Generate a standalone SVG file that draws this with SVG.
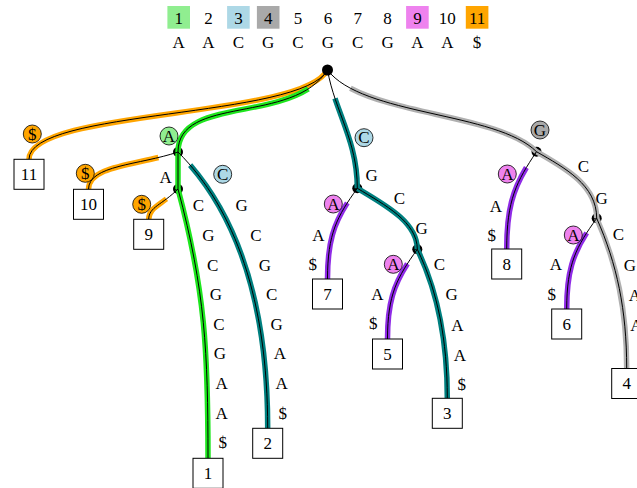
<svg xmlns="http://www.w3.org/2000/svg" width="637" height="488" viewBox="0 0 637 488">
<style>
.t{font-family:"Liberation Serif","Times New Roman",serif;font-size:17px;text-anchor:middle;fill:#000}
.e{fill:none;stroke:#000;stroke-width:1}
.hl{fill:none;stroke-width:5.5;stroke-linecap:butt}
.or{stroke:#FFA500}
.gr{stroke:#1EE61E}
.tl{stroke:#008080}
.gy{stroke:#B0B0B0}
.pu{stroke:#8F2BE6}
.box{fill:#fff;stroke:#000;stroke-width:1}
.dot{fill:#000}
.lab{stroke:#000;stroke-width:0.8}
</style>
<rect width="637" height="488" fill="#fff"/>
<g id="index-row">
<rect x="167.4" y="6" width="22.6" height="22.7" fill="#90EE90"/>
<rect x="227.1" y="6" width="22.6" height="22.7" fill="#ADD8E6"/>
<rect x="256.9" y="6" width="22.6" height="22.7" fill="#A9A9A9"/>
<rect x="406.1" y="6" width="22.6" height="22.7" fill="#EE82EE"/>
<rect x="465.8" y="6" width="22.6" height="22.7" fill="#FFA500"/>
<text class="t" x="178.7" y="24.3">1</text>
<text class="t" x="208.5" y="24.3">2</text>
<text class="t" x="238.4" y="24.3">3</text>
<text class="t" x="268.2" y="24.3">4</text>
<text class="t" x="298" y="24.3">5</text>
<text class="t" x="327.9" y="24.3">6</text>
<text class="t" x="357.7" y="24.3">7</text>
<text class="t" x="387.6" y="24.3">8</text>
<text class="t" x="417.4" y="24.3">9</text>
<text class="t" x="447.3" y="24.3">10</text>
<text class="t" x="477.1" y="24.3">11</text>
<text class="t" x="178.7" y="48.3">A</text>
<text class="t" x="208.5" y="48.3">A</text>
<text class="t" x="238.4" y="48.3">C</text>
<text class="t" x="268.2" y="48.3">G</text>
<text class="t" x="298" y="48.3">C</text>
<text class="t" x="327.9" y="48.3">G</text>
<text class="t" x="357.7" y="48.3">C</text>
<text class="t" x="387.6" y="48.3">G</text>
<text class="t" x="417.4" y="48.3">A</text>
<text class="t" x="447.3" y="48.3">A</text>
<text class="t" x="477.1" y="48.3">$</text>
</g>
<g id="internal-dots">
<circle id="node-A" class="dot" cx="178" cy="152" r="5"/>
<circle id="node-AA" class="dot" cx="178" cy="189" r="5"/>
<circle id="node-CG" class="dot" cx="357.3" cy="188.3" r="5"/>
<circle id="node-CGCG" class="dot" cx="417.3" cy="249.3" r="5"/>
<circle id="node-G" class="dot" cx="536.5" cy="151.7" r="5"/>
<circle id="node-GCG" class="dot" cx="596.7" cy="218.3" r="5"/>
</g>
<g id="connectors">
<g id="highlights">
<path class="hl or" d="M327.5,70 C301.5,118.7 29,108.9 29,159.3"/>
<path class="hl gr" pathLength="100" style="stroke-dasharray:0 15 100" d="M327.5,70 C293.4,124.8 178,94.5 178,152"/>
<path class="hl gr" d="M178,152 L178,189"/>
<path class="hl gr" d="M178,189 C205.4,291.4 208,352 208,458.3"/>
<path class="hl or" pathLength="100" style="stroke-dasharray:0 20 100" d="M178,152 C140,165 88.5,165 88.5,189.3"/>
<path class="hl or" pathLength="100" style="stroke-dasharray:0 35 100" d="M178,189 C162,205 148.7,207 148.7,219.3"/>
<path class="hl tl" pathLength="100" style="stroke-dasharray:0 6 100" d="M178,152 C235,209 267.7,300 267.7,428.3"/>
<path class="hl tl" pathLength="100" style="stroke-dasharray:0 24 100" d="M327.5,70 C335,112 357.3,140 357.3,188.3"/>
<path class="hl tl" d="M357.3,188.3 C385,205 417.3,222 417.3,249.3"/>
<path class="hl tl" d="M417.3,249.3 C438,292 447.3,340 447.3,398.3"/>
<path class="hl gy" pathLength="100" style="stroke-dasharray:0 13 100" d="M327.5,70 C362.2,115.8 496.5,111.7 536.5,151.7"/>
<path class="hl gy" d="M536.5,151.7 C565,168 596.7,185 596.7,218.3"/>
<path class="hl gy" d="M596.7,218.3 C617,264 626.7,310 626.7,368.5"/>
<path class="hl pu" pathLength="100" style="stroke-dasharray:0 18 100" d="M357.3,188.3 C337.3,216.3 327.5,233.3 327.5,279"/>
<path class="hl pu" pathLength="100" style="stroke-dasharray:0 18 100" d="M417.3,249.3 C397.3,277.3 387.5,294.3 387.5,339"/>
<path class="hl pu" pathLength="100" style="stroke-dasharray:0 18 100" d="M536.5,151.7 C516.5,181.7 506.7,199.7 506.7,249"/>
<path class="hl pu" pathLength="100" style="stroke-dasharray:0 18 100" d="M596.7,218.3 C576.7,246.3 566.7,263.3 566.7,309"/>
</g>
<g id="edges">
<path class="e" d="M327.5,70 C301.5,118.7 29,108.9 29,159.3"/>
<path class="e" d="M327.5,70 C293.4,124.8 178,94.5 178,152"/>
<path class="e" d="M178,152 L178,189"/>
<path class="e" d="M178,189 C205.4,291.4 208,352 208,458.3"/>
<path class="e" d="M178,152 C140,165 88.5,165 88.5,189.3"/>
<path class="e" d="M178,189 C162,205 148.7,207 148.7,219.3"/>
<path class="e" d="M178,152 C235,209 267.7,300 267.7,428.3"/>
<path class="e" d="M327.5,70 C335,112 357.3,140 357.3,188.3"/>
<path class="e" d="M357.3,188.3 C385,205 417.3,222 417.3,249.3"/>
<path class="e" d="M417.3,249.3 C438,292 447.3,340 447.3,398.3"/>
<path class="e" d="M327.5,70 C362.2,115.8 496.5,111.7 536.5,151.7"/>
<path class="e" d="M536.5,151.7 C565,168 596.7,185 596.7,218.3"/>
<path class="e" d="M596.7,218.3 C617,264 626.7,310 626.7,368.5"/>
<path class="e" d="M357.3,188.3 C337.3,216.3 327.5,233.3 327.5,279"/>
<path class="e" d="M417.3,249.3 C397.3,277.3 387.5,294.3 387.5,339"/>
<path class="e" d="M536.5,151.7 C516.5,181.7 506.7,199.7 506.7,249"/>
<path class="e" d="M596.7,218.3 C576.7,246.3 566.7,263.3 566.7,309"/>
</g>
</g>
<g id="node-root"><circle class="dot" cx="327.5" cy="70" r="5.5"/></g>
<g id="edge-labels">
<circle class="lab" cx="32.3" cy="134" r="9" fill="#FFA500"/><text class="t" x="32.3" y="139.7">$</text>
<circle class="lab" cx="169" cy="136" r="9" fill="#90EE90"/><text class="t" x="169" y="141.7">A</text>
<circle class="lab" cx="85.3" cy="173.3" r="9" fill="#FFA500"/><text class="t" x="85.3" y="179">$</text>
<circle class="lab" cx="141.7" cy="204.3" r="9" fill="#FFA500"/><text class="t" x="141.7" y="210">$</text>
<circle class="lab" cx="222.7" cy="174.3" r="9" fill="#ADD8E6"/><text class="t" x="222.7" y="180">C</text>
<circle class="lab" cx="364" cy="137.7" r="9" fill="#ADD8E6"/><text class="t" x="364" y="143.4">C</text>
<circle class="lab" cx="333.3" cy="204" r="9" fill="#EE82EE"/><text class="t" x="333.3" y="209.7">A</text>
<circle class="lab" cx="393.3" cy="264.3" r="9" fill="#EE82EE"/><text class="t" x="393.3" y="270">A</text>
<circle class="lab" cx="540" cy="130" r="9" fill="#A9A9A9"/><text class="t" x="540" y="135.7">G</text>
<circle class="lab" cx="507.3" cy="174" r="9" fill="#EE82EE"/><text class="t" x="507.3" y="179.7">A</text>
<circle class="lab" cx="573.3" cy="235" r="9" fill="#EE82EE"/><text class="t" x="573.3" y="240.7">A</text>
<text class="t" x="165.7" y="183">A</text>
<text class="t" x="198.3" y="210.7">C</text>
<text class="t" x="208.3" y="240.7">G</text>
<text class="t" x="212.7" y="270.7">C</text>
<text class="t" x="216" y="299.7">G</text>
<text class="t" x="219" y="329.7">C</text>
<text class="t" x="220" y="359">G</text>
<text class="t" x="221.7" y="389">A</text>
<text class="t" x="221.7" y="419">A</text>
<text class="t" x="222.7" y="448.4">$</text>
<text class="t" x="241.7" y="210.7">G</text>
<text class="t" x="256" y="240.7">C</text>
<text class="t" x="265" y="270.7">G</text>
<text class="t" x="271.7" y="299.7">C</text>
<text class="t" x="276.7" y="329.7">G</text>
<text class="t" x="280" y="358.7">A</text>
<text class="t" x="281.7" y="388.7">A</text>
<text class="t" x="282.7" y="418.7">$</text>
<text class="t" x="371.7" y="181.4">G</text>
<text class="t" x="318.3" y="240.7">A</text>
<text class="t" x="312.7" y="269.7">$</text>
<text class="t" x="399.3" y="204">C</text>
<text class="t" x="421.7" y="234">G</text>
<text class="t" x="377.3" y="299.7">A</text>
<text class="t" x="373.3" y="329">$</text>
<text class="t" x="439.3" y="270">C</text>
<text class="t" x="451.7" y="299.7">G</text>
<text class="t" x="457.3" y="330.7">A</text>
<text class="t" x="460" y="360.7">A</text>
<text class="t" x="461.7" y="389.7">$</text>
<text class="t" x="496" y="211.7">A</text>
<text class="t" x="491.7" y="240.7">$</text>
<text class="t" x="583.3" y="172.4">C</text>
<text class="t" x="601.7" y="204">G</text>
<text class="t" x="556" y="269.7">A</text>
<text class="t" x="551.7" y="300">$</text>
<text class="t" x="618.3" y="240">C</text>
<text class="t" x="630" y="270.7">G</text>
<text class="t" x="635" y="300.7">A</text>
<text class="t" x="636.5" y="330.7">A</text>
</g>
<g id="leaf-11"><rect class="box" x="14" y="159.3" width="30" height="30"/><text class="t" x="29" y="180">11</text></g>
<g id="leaf-10"><rect class="box" x="73.5" y="189.3" width="30" height="30"/><text class="t" x="88.5" y="210">10</text></g>
<g id="leaf-9"><rect class="box" x="133.7" y="219.3" width="30" height="30"/><text class="t" x="148.7" y="240">9</text></g>
<g id="leaf-1"><rect class="box" x="193" y="458.3" width="30" height="30"/><text class="t" x="208" y="479">1</text></g>
<g id="leaf-2"><rect class="box" x="252.7" y="428.3" width="30" height="30"/><text class="t" x="267.7" y="449">2</text></g>
<g id="leaf-7"><rect class="box" x="312.5" y="279" width="30" height="30"/><text class="t" x="327.5" y="299.7">7</text></g>
<g id="leaf-5"><rect class="box" x="372.5" y="339" width="30" height="30"/><text class="t" x="387.5" y="359.7">5</text></g>
<g id="leaf-3"><rect class="box" x="432.3" y="398.3" width="30" height="30"/><text class="t" x="447.3" y="419">3</text></g>
<g id="leaf-8"><rect class="box" x="491.7" y="249" width="30" height="30"/><text class="t" x="506.7" y="269.7">8</text></g>
<g id="leaf-6"><rect class="box" x="551.7" y="309" width="30" height="30"/><text class="t" x="566.7" y="329.7">6</text></g>
<g id="leaf-4"><rect class="box" x="611.7" y="368.5" width="30" height="30"/><text class="t" x="626.7" y="389.2">4</text></g>
</svg>
